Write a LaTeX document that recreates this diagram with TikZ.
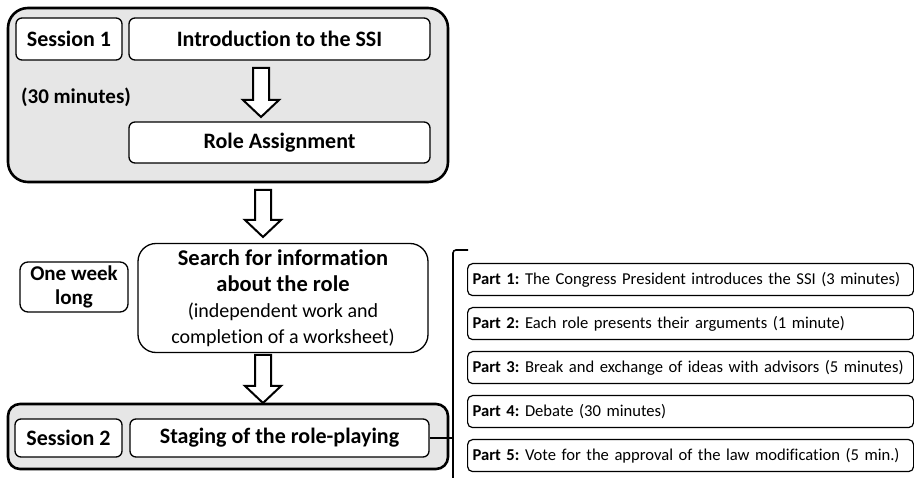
\documentclass[tikz,border=0pt]{standalone}
\usepackage{fontspec}
\setmainfont{Carlito}[Ligatures=NoCommon]
\frenchspacing
\usetikzlibrary{calc}
\definecolor{panelgray}{HTML}{E6E6E6}
\newcommand\bigbf{\fontsize{22.5}{26}\selectfont\bfseries}
\newcommand\smallrm{\fontsize{20}{25.5}\selectfont\mdseries}
\begin{document}
\begin{tikzpicture}[x=1pt,y=-1pt,
  panel/.style={draw=black,line width=2.6pt,fill=panelgray,rounded corners=#1},
  inbox/.style={draw=black,line width=1.3pt,fill=white,rounded corners=6pt,inner sep=0pt,font=\fontsize{22}{26}\selectfont\bfseries},
  partbox/.style={draw=black,line width=1.2pt,fill=white,rounded corners=5pt,inner sep=0pt,anchor=north west,minimum width=446pt,minimum height=32pt,text width=436pt,align=left,font=\fontsize{16.6}{19}\selectfont},
  barrow/.style={draw=black,line width=2pt,fill=white,line join=miter},
  bracket/.style={draw=black,line width=1.6pt}]
\useasboundingbox (0,0) rectangle (914,478);
% panels
\draw[panel=20pt] (8,8) rectangle (448,182);
\draw[panel=12pt] (8,404) rectangle (448,469);
% session 1
\node[inbox,minimum width=106pt,minimum height=42pt] (s1) at (69,39) {Session 1};
\node[inbox,minimum width=301pt,minimum height=42pt] (intro) at (279.5,39) {Introduction to the SSI};
\node[font=\fontsize{21}{24}\selectfont\bfseries] (t30) at (76,97) {(30 minutes)};
\node[inbox,minimum width=301pt,minimum height=41pt] (role) at (279.5,142.5) {Role Assignment};
% week
\node[inbox,minimum width=108pt,minimum height=50pt,align=center,rounded corners=8pt,font=\fontsize{21}{24}\selectfont\bfseries] (week) at (74,287) {One week\\long};
\node[inbox,minimum width=290pt,minimum height=109pt,align=center,rounded corners=18pt] (search) at (283,298) {\bigbf Search for information\\\bigbf about the role\\\smallrm (independent work and\\\smallrm completion of a worksheet)};
% session 2
\node[inbox,minimum width=107pt,minimum height=38pt] (s2) at (68.5,438) {Session 2};
\node[inbox,minimum width=299pt,minimum height=38pt] (stage) at (279.5,438) {Staging of the role-playing};
% block arrows
\coordinate (a1s) at (261,68); \coordinate (a1e) at (261,117);
\coordinate (a2s) at (263,190); \coordinate (a2e) at (263,237);
\coordinate (a3s) at (263,355); \coordinate (a3e) at (263,403);
\foreach \s/\e in {a1s/a1e,a2s/a2e,a3s/a3e}{
  \draw[barrow] ($(\s)+(-8,0)$) -- ($(\s)+(8,0)$) -- ($(\e)+(8,-17)$) -- ($(\e)+(18,-17)$) -- (\e) -- ($(\e)+(-18,-17)$) -- ($(\e)+(-8,-17)$) -- cycle;
}
% parts
\node[partbox] (p1) at (467,263) {\textbf{Part 1:} The Congress President introduces the SSI (3 minutes)};
\node[partbox] (p2) at (467,307) {\textbf{Part 2:} Each role presents their arguments (1 minute)};
\node[partbox] (p3) at (467,351) {\textbf{Part 3:} Break and exchange of ideas with advisors (5 minutes)};
\node[partbox] (p4) at (467,395) {\textbf{Part 4:} Debate (30 minutes)};
\node[partbox] (p5) at (467,439) {\textbf{Part 5:} Vote for the approval of the law modification (5 min.)};
% bracket
\coordinate (btop) at (468,250);
\coordinate (bcorner) at (453,250);
\coordinate (bbot) at (453,480);
\coordinate (bjoin) at (453,438);
\draw[bracket,rounded corners=3pt] (btop) -- (bcorner) -- (bbot);
\draw[bracket] (stage.east) -- (bjoin);
\end{tikzpicture}
\end{document}
